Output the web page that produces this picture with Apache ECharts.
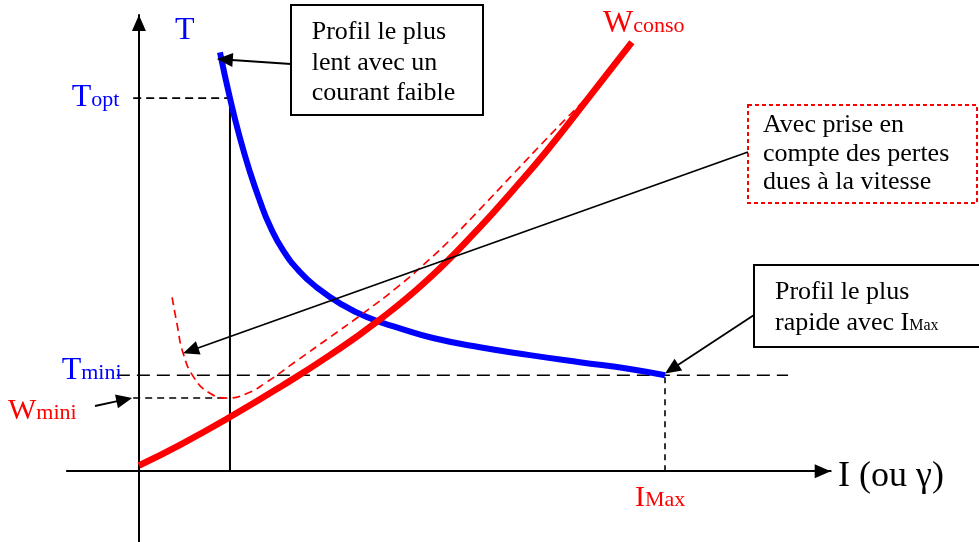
<!DOCTYPE html>
<html>
<head>
<meta charset="utf-8">
<script src="https://cdn.jsdelivr.net/npm/echarts@6/dist/echarts.min.js"></script>
<style>
  html, body { margin: 0; padding: 0; background: #fff; }
  #chart { width: 979px; height: 542px; }
</style>
</head>
<body>
<div id="chart"></div>
<script>
// Characteristic values (current in units where I_MAX = 100, time/energy in units where T_OPT = 100)
const I_OPT = 17.3;
const I_MAX = 100;
const T_OPT = 100;
const T_MINI = 25.7;
const W_MINI = 19.6;

// Move duration T as a function of the current I
const tCurrent = [15.4, 17.3, 19.2, 21.1, 23.0, 24.9, 27.4, 30.6, 33.8, 38.2, 43.3, 49.6, 55.9, 64.8, 74.3, 83.8, 93.3, 100];
const tValues  = [112.3, 100, 89.3, 80.2, 72.4, 65.7, 59.2, 53.4, 49.3, 45.0, 41.3, 38.3, 35.7, 33.2, 31.1, 29.2, 27.4, 25.7];

// Consumed energy W_conso as a function of the current I
const wCurrent = [0, 8, 17.3, 27, 36.3, 45, 54.8, 64.8, 71.1, 77.6, 85.7, 93.7];
const wValues  = [1.5, 7.2, 14.5, 22.7, 31.1, 39.8, 51.2, 65.4, 75.3, 86.0, 100.5, 115.0];

// Consumed energy including the speed-dependent losses
const wLossCurrent = [6.3, 7.2, 8.4, 10.5, 13.5, 16.9, 20.5, 24, 30, 36.3, 42.6, 49, 55, 60, 64.8, 71.1, 77.6, 81.4, 84.8];
const wLossValues  = [46.6, 39.7, 31.6, 25.0, 20.9, 19.6, 20.8, 23.6, 29.6, 35.9, 42.3, 49.2, 56.5, 63.2, 70.2, 79.6, 89.3, 94.8, 99.6];

const zip = (xs, ys) => xs.map((x, i) => [x, ys[i]]);

const BLUE = '#0000ff';
const RED = '#ff0000';
const FONT = '"Liberation Serif", "Times New Roman", serif';

const chart = echarts.init(document.getElementById('chart'), null, { renderer: 'canvas' });

const hiddenAxis = {
  type: 'value',
  splitLine: { show: false },
  axisTick: { show: false },
  axisLabel: { show: false },
  axisLine: {
    show: true,
    onZero: true,
    symbol: ['none', 'triangle'],
    symbolSize: [14, 16],
    symbolOffset: [0, -8],
    lineStyle: { color: '#000', width: 2 }
  }
};

function guide(points, color, width, dash) {
  return {
    type: 'line',
    data: points,
    symbol: 'none',
    silent: true,
    lineStyle: { color: color, width: width, type: dash || 'solid' },
    z: 2
  };
}

function curve(name, data, color, width, dash, z) {
  return {
    name: name,
    type: 'line',
    data: data,
    symbol: 'none',
    smooth: true,
    lineStyle: { color: color, width: width, type: dash || 'solid' },
    z: z
  };
}

chart.setOption({
  animation: false,
  backgroundColor: '#fff',
  grid: { left: 66.9, right: 148.3, top: 15, bottom: 0, containLabel: false },
  xAxis: Object.assign({}, hiddenAxis, { min: -13.7, max: 131.5 }),
  yAxis: Object.assign({}, hiddenAxis, { min: -19, max: 122.3 }),
  series: [
    guide([[-1.1, T_OPT], [I_OPT, T_OPT]], '#000', 1.6, [8, 5]),
    guide([[I_OPT, 0], [I_OPT, T_OPT]], '#000', 2),
    guide([[-1.1, W_MINI], [I_OPT, W_MINI]], '#000', 1.6, [7, 5]),
    guide([[-4.2, T_MINI], [123.4, T_MINI]], '#000', 1.6, [13, 7]),
    guide([[I_MAX, 0], [I_MAX, T_MINI]], '#000', 1.6, [6, 5]),
    curve('T', zip(tCurrent, tValues), BLUE, 6, null, 3),
    curve('W pertes', zip(wLossCurrent, wLossValues), RED, 1.7, [8, 5], 4),
    curve('Wconso', zip(wCurrent, wValues), RED, 6.5, null, 5)
  ]
});

// ---- Annotations: labels, boxes and arrows ----
const measureCtx = document.createElement('canvas').getContext('2d');
function textWidth(t, size) {
  measureCtx.font = size + 'px ' + FONT;
  return measureCtx.measureText(t).width;
}

// Lay out text runs on a common baseline (main text + smaller index text)
function runs(x, baseline, parts) {
  const out = [];
  let cx = x;
  parts.forEach(([t, size, color]) => {
    out.push({
      type: 'text',
      x: cx,
      y: baseline - 0.805 * size,
      z: 20,
      style: {
        text: t,
        fill: color,
        font: size + 'px ' + FONT,
        lineHeight: size,
        align: 'left',
        verticalAlign: 'top'
      }
    });
    cx += textWidth(t, size);
  });
  return out;
}

function box(x1, y1, x2, y2, stroke, dash) {
  return {
    type: 'rect',
    z: 15,
    shape: { x: x1, y: y1, width: x2 - x1, height: y2 - y1 },
    style: { fill: '#fff', stroke: stroke, lineWidth: 2, lineDash: dash || null }
  };
}

function arrow(from, to) {
  const dx = to[0] - from[0], dy = to[1] - from[1];
  const len = Math.hypot(dx, dy);
  const ux = dx / len, uy = dy / len;
  const headLen = 16, half = 7;
  const bx = to[0] - ux * headLen, by = to[1] - uy * headLen;
  return [
    {
      type: 'line', z: 18,
      shape: { x1: from[0], y1: from[1], x2: bx + ux, y2: by + uy },
      style: { stroke: '#000', lineWidth: 1.8 }
    },
    {
      type: 'polygon', z: 18,
      shape: { points: [to, [bx - uy * half, by + ux * half], [bx + uy * half, by - ux * half]] },
      style: { fill: '#000' }
    }
  ];
}

const px = p => chart.convertToPixel({ gridIndex: 0 }, p);

// Arrow tips, anchored to the curves in data units
const tipSlow = px([tCurrent[0] - 0.6, tValues[0] - 1.8]);
const tipLoss = px([wLossCurrent[2], wLossValues[2]]);
const tipFast = px([I_MAX, T_MINI + 0.5]);
const tipWmini = px([-1.3, W_MINI]);

const graphics = [].concat(
  box(291, 5, 483, 115, '#000'),
  box(748, 105, 977, 203, RED, [4, 3]),
  box(754, 265, 981, 347, '#000'),

  runs(311.7, 40, [['Profil le plus', 26, '#000']]),
  runs(311.7, 71, [['lent avec un', 26, '#000']]),
  runs(311.7, 101.5, [['courant faible', 26, '#000']]),

  runs(763, 133.3, [['Avec prise en', 26, '#000']]),
  runs(763, 161.7, [['compte des pertes', 26, '#000']]),
  runs(763, 190, [['dues à la vitesse', 26, '#000']]),

  runs(775, 300, [['Profil le plus', 26, '#000']]),
  runs(775, 330.7, [['rapide avec I', 26, '#000'], ['Max', 16, '#000']]),

  runs(175, 40, [['T', 32, BLUE]]),
  runs(71.7, 107, [['T', 32, BLUE], ['opt', 22, BLUE]]),
  runs(61.7, 380, [['T', 32, BLUE], ['mini', 22, BLUE]]),
  runs(8, 420, [['W', 30, RED], ['mini', 22, RED]]),
  runs(603, 33, [['W', 32, RED], ['conso', 22, RED]]),
  runs(635, 507, [['I', 30, RED], ['Max', 22, RED]]),
  runs(838, 488, [['I (ou γ)', 36, '#000']]),

  arrow([291, 64], tipSlow),
  arrow([748, 152], tipLoss),
  arrow([754, 315], tipFast),
  arrow([95, 406], tipWmini)
);

chart.setOption({ graphic: graphics });
</script>
</body>
</html>
